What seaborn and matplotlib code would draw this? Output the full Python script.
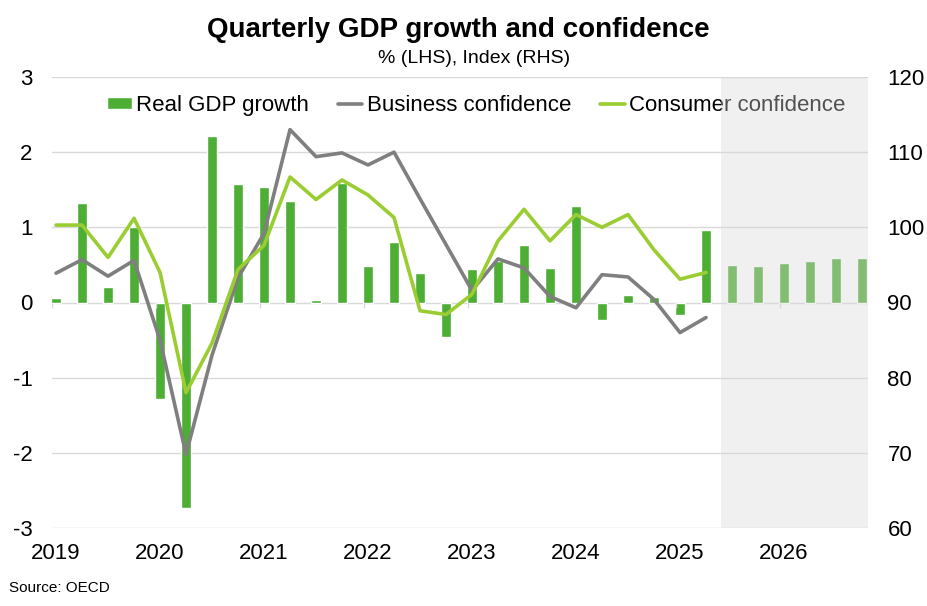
import numpy as np
import pandas as pd
import matplotlib.pyplot as plt
import seaborn as sns

# ── Data ────────────────────────────────────────────────────
years = [2019, 2020, 2021, 2022, 2023, 2024, 2025, 2026]
quarters = [f"{y}Q{q}" for y in years for q in range(1, 5)]

# real GDP growth, % q/q (last 6 are forecasts, sitting under the shade)
gdp_growth = [0.06, 1.33, 0.21, 1.00,
              -1.28, -2.74, 2.21, 1.57,
              1.54, 1.35, 0.03, 1.59,
              0.48, 0.80, 0.39, -0.46,
              0.45, 0.55, 0.76, 0.46,
              1.29, -0.23, 0.10, 0.07,
              -0.17, 0.96, 0.50, 0.48,
              0.53, 0.55, 0.59, 0.59]

# confidence indices (RHS), 2019Q1 - 2025Q2
business_conf = [93.9, 95.7, 93.5, 95.6,
                 85.0, 69.8, 83.0, 93.3,
                 99.2, 113.0, 109.4, 109.9,
                 108.3, 110.0, 103.8, 97.7,
                 91.6, 95.8, 94.6, 90.8,
                 89.3, 93.7, 93.4, 90.4,
                 86.0, 88.0]
consumer_conf = [100.3, 100.3, 96.0, 101.2,
                 94.0, 78.0, 84.6, 94.4,
                 97.6, 106.7, 103.7, 106.3,
                 104.3, 101.3, 88.9, 88.4,
                 91.1, 98.2, 102.4, 98.2,
                 101.7, 100.0, 101.7, 97.0,
                 93.1, 94.0]

forecast_start = 25.57   # shade begins between 2025Q2 and 2025Q3

# ── Styling ─────────────────────────────────────────────────
sns.set_style('white')
plt.rcParams['font.family'] = ['Liberation Sans', 'DejaVu Sans']
plt.rcParams['axes.unicode_minus'] = False
plt.rcParams['text.color'] = 'black'
plt.rcParams['xtick.color'] = 'black'
plt.rcParams['ytick.color'] = 'black'
plt.rcParams['legend.labelcolor'] = 'black'

bar_green = '#4EAD35'
grey_line = '#7F7F7F'
lime_line = '#9ACD32'
grid_col = '#D9D9D9'

gdp_df = pd.DataFrame({'quarter': quarters, 'growth': gdp_growth})
conf_df = pd.DataFrame({'pos': np.arange(len(business_conf)),
                        'business': business_conf,
                        'consumer': consumer_conf})

fig = plt.figure(figsize=(9.27, 6.06), dpi=100)
ax = fig.add_axes([52 / 927, 1 - 528 / 606, 816 / 927, 451 / 606])

# bars on LHS
sns.barplot(data=gdp_df, x='quarter', y='growth', color=bar_green,
            saturation=1, width=0.35, ax=ax, label='Real GDP growth')

# lines on RHS
ax2 = ax.twinx()
sns.lineplot(data=conf_df, x='pos', y='business', color=grey_line,
             linewidth=2.6, ax=ax2, label='Business confidence')
sns.lineplot(data=conf_df, x='pos', y='consumer', color=lime_line,
             linewidth=2.6, ax=ax2, label='Consumer confidence')

# ── Axes ────────────────────────────────────────────────────
ax.set_xlim(-0.155, 31.23)
ax.set_ylim(-3, 3)
ax2.set_ylim(60, 120)
ax.set_yticks(range(-3, 4))
ax2.set_yticks(range(60, 121, 10))
year_pos = np.arange(0, len(quarters), 4)
ax.set_xticks(year_pos)
ax.set_xticklabels(years)
ax.set_xlabel('')
ax.set_ylabel('')
ax2.set_xlabel('')
ax2.set_ylabel('')

ax.yaxis.grid(True, color=grid_col, linewidth=1.0)
ax.set_axisbelow(True)
ax.vlines(year_pos - 0.16, -0.07, 0, color=grid_col, linewidth=1.0)

for a in (ax, ax2):
    for s in a.spines.values():
        s.set_visible(False)
ax.tick_params(axis='y', length=0, labelsize=16, pad=14, labelcolor='black')
ax.tick_params(axis='x', length=0, labelsize=16, pad=11, labelcolor='black')
ax2.tick_params(axis='y', length=0, labelsize=16, pad=14, labelcolor='black')
for l in ax2.get_lines():
    l.set_solid_joinstyle('round')

# ── Legend (combined) ───────────────────────────────────────
h1, l1 = ax.get_legend_handles_labels()
h2, l2 = ax2.get_legend_handles_labels()
if ax.get_legend():
    ax.get_legend().remove()
ax2.legend(h1 + h2, l1 + l2, loc='center', bbox_to_anchor=(0.52, 0.936),
           ncol=3, frameon=False, fontsize=16, handlelength=1.1,
           handleheight=0.45, handletextpad=0.2, columnspacing=1.3,
           borderaxespad=0, labelcolor='black')

# forecast shade, drawn semi-transparent over everything
ax2.axvspan(forecast_start, 31.23, color='#D8D8D8', alpha=0.38,
            linewidth=0, zorder=10)

# ── Titles & source ─────────────────────────────────────────
fig.text(458 / 927, 1 - 37 / 606, 'Quarterly GDP growth and confidence',
         ha='center', va='baseline', fontsize=20, fontweight='bold',
         color='black')
fig.text(474 / 927, 1 - 63 / 606, '% (LHS), Index (RHS)',
         ha='center', va='baseline', fontsize=14, color='black')
fig.text(9 / 927, 1 - 588 / 606, 'Source: OECD', ha='left', va='center',
         fontsize=11, color='black')

fig.savefig('out.png', dpi=100)
